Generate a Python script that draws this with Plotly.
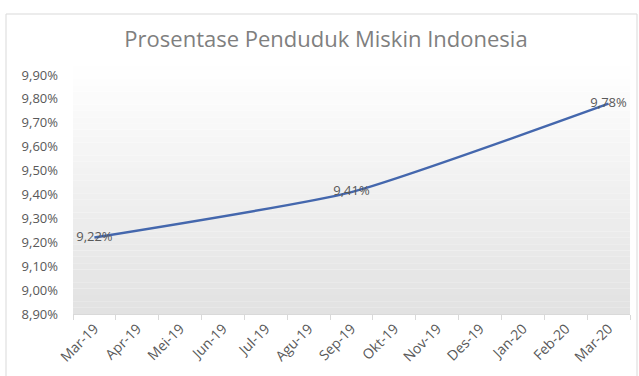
import plotly.graph_objects as go

months = ["Mar-19", "Apr-19", "Mei-19", "Jun-19", "Jul-19", "Agu-19", "Sep-19",
          "Okt-19", "Nov-19", "Des-19", "Jan-20", "Feb-20", "Mar-20"]
poverty_pct = [9.22, None, None, None, None, None, 9.41,
               None, None, None, None, None, 9.78]
y_ticks = [8.90, 9.00, 9.10, 9.20, 9.30, 9.40, 9.50, 9.60, 9.70, 9.80, 9.90]

def fmt(v):
    return f"{v:.2f}%".replace(".", ",")

labels = ["" if v is None else fmt(v) for v in poverty_pct]
y_tick_text = [fmt(v) for v in y_ticks]

W, H = 639, 376
L, R, T, B = 73, 9, 75, 62
pw, ph = W - L - R, H - T - B
FONT = "Open Sans"

fig = go.Figure()
fig.add_trace(go.Scatter(
    x=months, y=poverty_pct, mode="lines+text", connectgaps=True,
    line=dict(color="#4467ad", width=2.5, shape="spline", smoothing=0.5),
    text=labels, textposition="middle center",
    textfont=dict(family=FONT, size=13, color="#595959"),
    hoverinfo="skip", showlegend=False, cliponaxis=False,
))

shapes = []
n = 40
top_px = 60
span = ph + (T - top_px)
for i in range(n):
    y0 = H - B - span * (i / n)
    y1 = H - B - span * ((i + 1) / n)
    f = i / (n - 1)
    c = int(round(226 + (255 - 226) * f))
    shapes.append(dict(type="rect", xref="paper", yref="paper", layer="below",
                       x0=0, x1=1,
                       y0=(H - B - y0) / ph, y1=(H - B - y1) / ph,
                       line=dict(width=0), fillcolor=f"rgb({c},{c},{c})"))
shapes.append(dict(type="rect", xref="paper", yref="paper", layer="below",
                   x0=(6 - L) / pw, x1=(637 - L) / pw,
                   y0=(H - B - 390) / ph, y1=(H - B - 14) / ph,
                   line=dict(color="#d9d9d9", width=1), fillcolor="rgba(0,0,0,0)"))

fig.update_layout(
    width=W, height=H,
    margin=dict(l=L, r=R, t=T, b=B),
    paper_bgcolor="white", plot_bgcolor="rgba(0,0,0,0)",
    title=dict(text="Prosentase Penduduk Miskin Indonesia", x=326 / W, xanchor="center",
               y=1 - 39 / H, yanchor="middle", xref="container", yref="container",
               font=dict(family=FONT, size=22, color="#7f7f7f")),
    font=dict(family=FONT, size=12, color="#595959"),
    shapes=shapes,
    xaxis=dict(type="category", showgrid=False, showline=True, linecolor="#d9d9d9",
               ticks="outside", tickson="boundaries", ticklen=5, tickcolor="#d9d9d9",
               tickangle=-45, tickfont=dict(family=FONT, size=14, color="#595959"),
               range=[-0.5, 12.5], fixedrange=True),
    yaxis=dict(range=[8.90, 9.90], tickvals=y_ticks, ticktext=y_tick_text,
               showgrid=False, zeroline=False, showline=False, ticklabelstandoff=14,
               tickfont=dict(family=FONT, size=13, color="#595959"), fixedrange=True),
)

fig.write_html("out.html")
